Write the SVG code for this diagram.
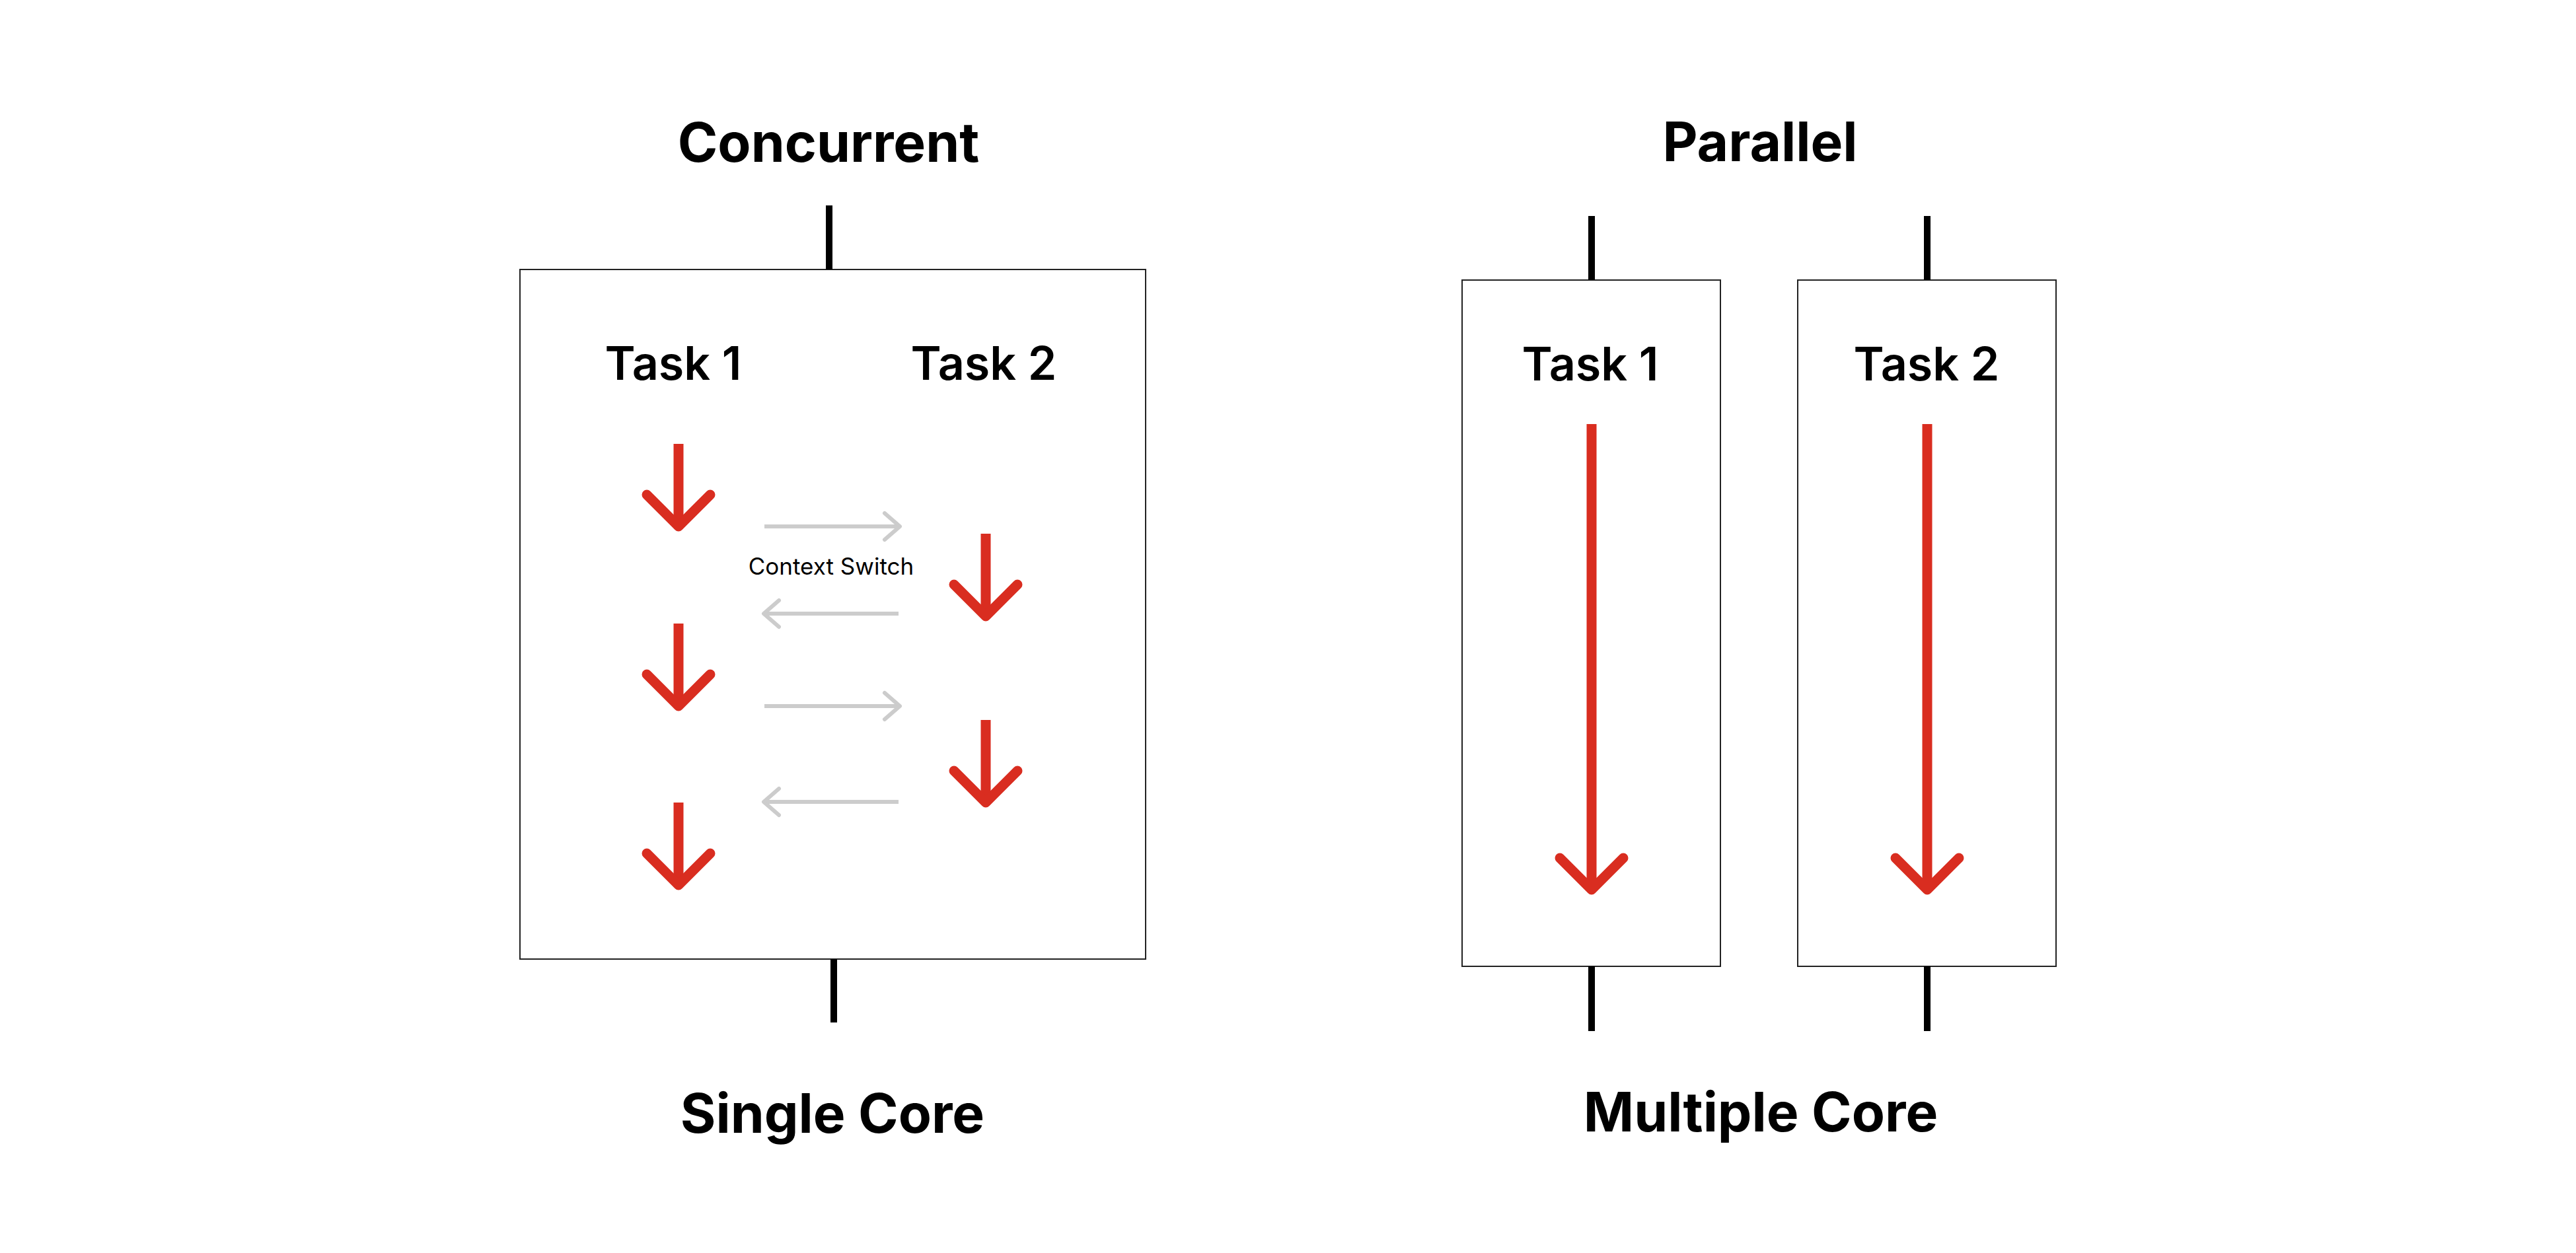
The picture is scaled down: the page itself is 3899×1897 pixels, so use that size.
<svg xmlns="http://www.w3.org/2000/svg" width="3899" height="1897" viewBox="0 0 3899 1897">
<style>
.title{font-family:Inter,"Liberation Sans",sans-serif;font-weight:700;font-size:82px;fill:#000;text-anchor:middle}
.task{font-family:Inter,"Liberation Sans",sans-serif;font-weight:600;font-size:70px;fill:#000;text-anchor:middle}
.cs{font-family:Inter,"Liberation Sans",sans-serif;font-weight:400;font-size:35px;fill:#000;text-anchor:middle}
.box{fill:#fff;stroke:#222;stroke-width:2}
.stub{stroke:#000;stroke-width:10;fill:none}
.red{stroke:#D92D20;stroke-width:15;fill:none;stroke-linecap:round;stroke-linejoin:round}
.shaft{stroke:#D92D20;stroke-width:15;fill:none}
.gray{stroke:#CCCCCC;stroke-width:6;fill:none;stroke-linecap:round;stroke-linejoin:round}
.grayline{stroke:#CCCCCC;stroke-width:6;fill:none}
</style>
<rect width="3899" height="1897" fill="#fff"/>

<g id="concurrent">
  <text class="title" x="1254" y="245">Concurrent</text>
  <rect class="box" x="787" y="408" width="947" height="1044"/>
  <text class="task" x="1019" y="575">Task 1</text>
  <text class="task" x="1489" y="575">Task 2</text>
  <text class="cs" x="1258" y="870">Context Switch</text>
  <text class="title" x="1260" y="1715">Single Core</text>
</g>

<g id="concurrent-task1-arrows">
  <line class="shaft" x1="1027" y1="672" x2="1027" y2="793"/>
  <polyline class="red" points="979,749 1027,797 1075,749"/>
  <line class="shaft" x1="1027" y1="944" x2="1027" y2="1065"/>
  <polyline class="red" points="979,1021 1027,1069 1075,1021"/>
  <line class="shaft" x1="1027" y1="1215" x2="1027" y2="1336"/>
  <polyline class="red" points="979,1292 1027,1340 1075,1292"/>
</g>

<g id="concurrent-task2-arrows">
  <line class="shaft" x1="1492" y1="808" x2="1492" y2="929"/>
  <polyline class="red" points="1444,885 1492,933 1540,885"/>
  <line class="shaft" x1="1492" y1="1090" x2="1492" y2="1211"/>
  <polyline class="red" points="1444,1167 1492,1215 1540,1167"/>
</g>

<g id="parallel">
  <text class="title" x="2664" y="244">Parallel</text>
  <text class="title" x="2665" y="1713">Multiple Core</text>
</g>

<g id="parallel-task1">
  <rect class="box" x="2213" y="424" width="391" height="1039"/>
  <text class="task" x="2407" y="576">Task 1</text>
  <line class="shaft" x1="2409" y1="642" x2="2409" y2="1342"/>
  <polyline class="red" points="2361,1299 2409,1347 2457,1299"/>
</g>

<g id="parallel-task2">
  <rect class="box" x="2721" y="424" width="391" height="1039"/>
  <text class="task" x="2916" y="576">Task 2</text>
  <line class="shaft" x1="2917" y1="642" x2="2917" y2="1342"/>
  <polyline class="red" points="2869,1299 2917,1347 2965,1299"/>
</g>

<g id="connectors">
  <line class="stub" x1="1255" y1="311" x2="1255" y2="408"/>
  <line class="stub" x1="1262" y1="1452" x2="1262" y2="1548"/>
  <line class="stub" x1="2409" y1="327" x2="2409" y2="424"/>
  <line class="stub" x1="2409" y1="1463" x2="2409" y2="1561"/>
  <line class="stub" x1="2917" y1="327" x2="2917" y2="424"/>
  <line class="stub" x1="2917" y1="1463" x2="2917" y2="1561"/>

  <line class="grayline" x1="1157" y1="797" x2="1359" y2="797"/>
  <polyline class="gray" points="1339,777 1362,797 1339,817"/>
  <line class="grayline" x1="1159" y1="929" x2="1360" y2="929"/>
  <polyline class="gray" points="1179,909 1156,929 1179,949"/>
  <line class="grayline" x1="1157" y1="1069" x2="1359" y2="1069"/>
  <polyline class="gray" points="1339,1049 1362,1069 1339,1089"/>
  <line class="grayline" x1="1159" y1="1214" x2="1360" y2="1214"/>
  <polyline class="gray" points="1179,1194 1156,1214 1179,1234"/>
</g>
</svg>
